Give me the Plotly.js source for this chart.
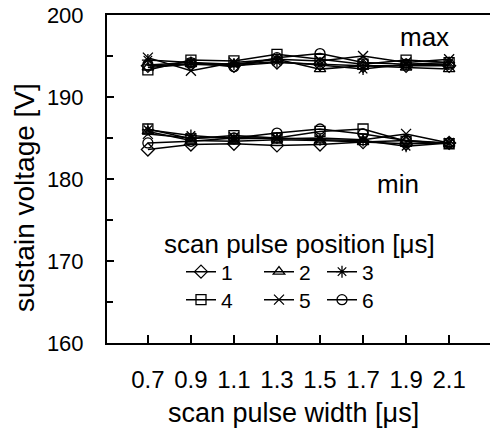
<!DOCTYPE html>
<html>
<head>
<meta charset="utf-8">
<script src="https://cdn.plot.ly/plotly-3.0.1.min.js"></script>
<style>html,body{margin:0;padding:0;background:#fff}</style>
</head>
<body>
<div id="chart" style="width:492px;height:428px"></div>
<script>
var categories = ["0.7", "0.9", "1.1", "1.3", "1.5", "1.7", "1.9", "2.1"];
var seriesNames = ["1", "2", "3", "4", "5", "6"];
var maxValues = [
  [193.8, 194.0, 193.8, 194.2, 194.0, 193.8, 193.8, 193.8],
  [193.6, 194.0, 194.0, 194.6, 193.4, 193.8, 193.6, 193.4],
  [194.5, 194.2, 194.0, 194.3, 193.9, 193.4, 194.0, 194.2],
  [193.3, 194.5, 194.4, 195.2, 194.6, 194.0, 194.5, 194.2],
  [194.8, 193.2, 194.2, 194.6, 194.4, 195.0, 194.2, 194.6],
  [193.9, 194.2, 193.7, 194.8, 195.3, 194.2, 194.0, 194.0]
];
var minValues = [
  [183.6, 184.2, 184.3, 184.1, 184.2, 184.5, 184.3, 184.4],
  [185.8, 184.7, 184.6, 184.8, 184.7, 184.5, 184.7, 184.3],
  [186.0, 185.3, 184.9, 185.0, 184.8, 184.7, 184.0, 184.4],
  [186.1, 184.9, 185.3, 185.0, 185.8, 186.1, 184.6, 184.3],
  [185.5, 185.0, 185.1, 184.9, 185.0, 184.8, 185.5, 184.4],
  [184.4, 184.6, 185.0, 185.6, 186.1, 185.5, 184.7, 184.4]
];
var symbols = ["diamond-open", "triangle-up-open", "asterisk-open", "square-open", "x-thin-open", "circle-open"];

var FONT = "Arial, 'Liberation Sans', sans-serif";
var legendIds = ["legend", "legend2", "legend3", "legend4", "legend5", "legend6"];
var traces = [];
for (var i = 0; i < seriesNames.length; i++) {
  var common = {
    x: categories, type: "scatter", mode: "lines+markers",
    line: {color: "black", width: 1.5},
    marker: {symbol: symbols[i], size: 10, color: "black", line: {color: "black", width: 1.3}},
    legendgroup: "g" + i, legend: legendIds[i], name: seriesNames[i]
  };
  traces.push(Object.assign({}, common, {y: maxValues[i], showlegend: true}));
  traces.push(Object.assign({}, common, {y: minValues[i], showlegend: false}));
}

// legend placement in pixels (left edge, vertical centre)
var PL = 107, PW = 383, PB = 343, PH = 328;
function px2x(p) { return (p - PL) / PW; }
function px2y(p) { return (PB - p) / PH; }
var legendLeft = [181, 259, 322, 181, 259, 322];
var legendMid = [272, 272, 272, 300, 300, 300];

var layout = {
  width: 492, height: 428,
  margin: {l: 107, r: 2, t: 15, b: 85},
  paper_bgcolor: "white", plot_bgcolor: "white",
  font: {family: FONT, size: 21, color: "black"},
  showlegend: true,
  xaxis: {
    type: "category", range: [-0.95, 7.95],
    showline: true, linecolor: "black", linewidth: 2, mirror: true,
    ticks: "inside", ticklen: 8, tickwidth: 2, tickcolor: "black",
    showgrid: false, zeroline: false,
    tickfont: {family: FONT, size: 24, color: "black"},
    ticklabelstandoff: 14
  },
  yaxis: {
    range: [160, 200], dtick: 10, tick0: 160,
    showline: true, linecolor: "black", linewidth: 2,
    ticks: "inside", ticklen: 7, tickwidth: 2, tickcolor: "black",
    minor: {dtick: 5, ticks: "inside", ticklen: 6, tickwidth: 1.5, tickcolor: "black"},
    showgrid: false, zeroline: false,
    tickfont: {family: FONT, size: 22, color: "black"},
    ticklabelstandoff: 17
  },
  annotations: [
    {text: "max", xref: "paper", yref: "paper", x: px2x(424), y: px2y(37), xanchor: "center", yanchor: "middle", showarrow: false, font: {family: FONT, size: 26, color: "black"}},
    {text: "min", xref: "paper", yref: "paper", x: px2x(398), y: px2y(184), xanchor: "center", yanchor: "middle", showarrow: false, font: {family: FONT, size: 26, color: "black"}},
    {text: "scan pulse position [μs]", xref: "paper", yref: "paper", x: px2x(299), y: px2y(244), xanchor: "center", yanchor: "middle", showarrow: false, font: {family: FONT, size: 26, color: "black"}},
    {text: "scan pulse width [μs]", xref: "paper", yref: "paper", x: px2x(293), y: px2y(413), xanchor: "center", yanchor: "middle", showarrow: false, font: {family: FONT, size: 27, color: "black"}},
    {text: "sustain voltage [V]", xref: "paper", yref: "paper", x: px2x(25), y: px2y(198), xanchor: "center", yanchor: "middle", textangle: -90, showarrow: false, font: {family: FONT, size: 28, color: "black"}}
  ]
};
for (var k = 0; k < legendIds.length; k++) {
  layout[legendIds[k]] = {
    orientation: "h", xanchor: "left", yanchor: "middle",
    x: px2x(legendLeft[k]), y: px2y(legendMid[k]),
    font: {family: FONT, size: 21, color: "black"},
    bgcolor: "rgba(0,0,0,0)", borderwidth: 0, itemclick: false
  };
}

Plotly.newPlot("chart", traces, layout, {displayModeBar: false, staticPlot: true});
</script>
</body>
</html>
